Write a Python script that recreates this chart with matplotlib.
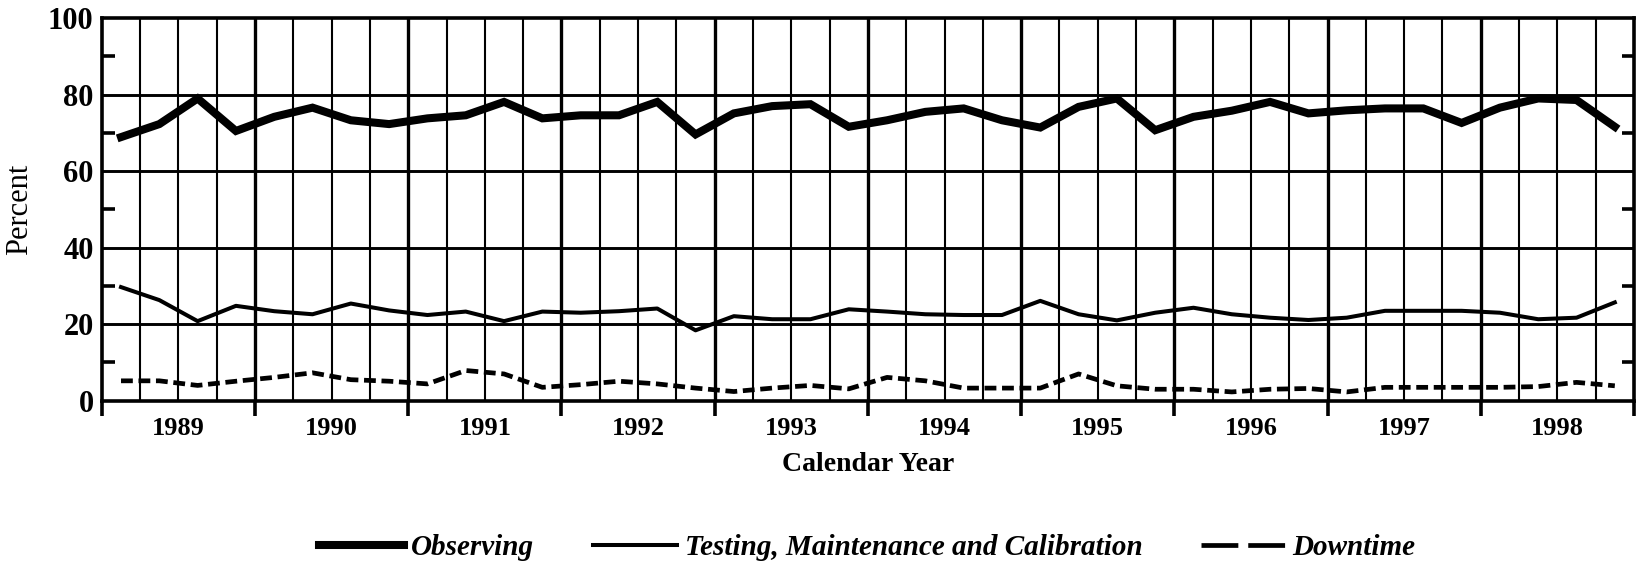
import numpy as np
import matplotlib
matplotlib.use("Agg")
from matplotlib import pyplot as plt
from matplotlib.lines import Line2D

years = [1989, 1990, 1991, 1992, 1993, 1994, 1995, 1996, 1997, 1998]

# quarterly values, 4 per year
observing = [68.9, 72.3, 79.0, 70.5, 74.2, 76.6, 73.3, 72.3, 73.8, 74.6, 78.1, 73.8,
             74.6, 74.6, 78.1, 69.6, 75.1, 77.0, 77.5, 71.6, 73.3, 75.5, 76.4, 73.3,
             71.4, 76.8, 79.0, 70.7, 74.2, 75.8, 78.1, 75.1, 75.9, 76.4, 76.4, 72.6,
             76.6, 79.0, 78.6, 71.6]
testing = [29.7, 26.3, 20.8, 24.8, 23.4, 22.6, 25.4, 23.6, 22.4, 23.3, 20.8, 23.3,
           23.0, 23.4, 24.1, 18.4, 22.1, 21.3, 21.3, 23.9, 23.3, 22.6, 22.4, 22.4,
           26.1, 22.6, 21.0, 23.0, 24.3, 22.6, 21.7, 21.1, 21.7, 23.5, 23.5, 23.5,
           23.0, 21.3, 21.7, 25.7]
downtime = [5.2, 5.2, 4.0, 5.1, 6.1, 7.3, 5.5, 5.1, 4.4, 7.9, 7.0, 3.5,
            4.2, 5.1, 4.4, 3.3, 2.4, 3.3, 4.0, 3.1, 6.1, 5.2, 3.3, 3.3,
            3.3, 7.0, 3.9, 3.0, 3.0, 2.3, 3.0, 3.2, 2.3, 3.5, 3.5, 3.5,
            3.5, 3.7, 4.8, 3.9]

plt.rcParams['font.family'] = ['Liberation Serif', 'DejaVu Serif']

fig = plt.figure(figsize=(16.43, 5.66), dpi=100)
ax = fig.add_axes([0.062, 0.292, 0.9325, 0.676])

nq = len(observing)
x = np.arange(nq) + 0.5

# grid
for q in range(1, nq):
    ax.axvline(q, color='black', lw=2.4 if q % 4 == 0 else 1.5, zorder=1)
for yv in [20, 40, 60, 80]:
    ax.axhline(yv, color='black', lw=2.1, zorder=1)

ax.plot(x, observing, color='black', lw=5.8, solid_joinstyle='miter', zorder=3)
ax.plot(x, testing, color='black', lw=2.9, zorder=3)
ax.plot(x, downtime, color='black', lw=3.4, dashes=(2.5, 1.2), zorder=3)

ax.set_xlim(0, nq)
ax.set_ylim(0, 100)
for s in ax.spines.values():
    s.set_linewidth(2.6)

ax.set_yticks([0, 20, 40, 60, 80, 100])
ax.set_yticks([10, 30, 50, 70, 90], minor=True)
ax.tick_params(axis='y', which='major', length=0, pad=6, labelsize=22)
ax.tick_params(axis='y', which='minor', direction='in', length=9, width=2.6,
               right=True)
for lab in ax.get_yticklabels():
    lab.set_fontweight('bold')

ax.set_xticks(np.arange(0, nq + 1, 4))
ax.set_xticklabels([])
ax.set_xticks(np.arange(2, nq, 4), minor=True)
ax.set_xticklabels([str(y) for y in years], minor=True, fontsize=19,
                   fontweight='bold')
ax.tick_params(axis='x', which='major', direction='out', length=11, width=2.6)
ax.tick_params(axis='x', which='minor', length=0, pad=12)

ax.set_ylabel('Percent', fontsize=22, labelpad=10)
ax.set_xlabel('Calendar Year', fontsize=20, fontweight='bold', labelpad=8)

handles = [Line2D([], [], color='black', lw=5.8),
           Line2D([], [], color='black', lw=2.9),
           Line2D([], [], color='black', lw=3.4, dashes=(7.8, 2.1))]
fig.legend(handles, ['Observing', 'Testing, Maintenance and Calibration', 'Downtime'],
           loc='center', bbox_to_anchor=(0.528, 0.033), ncol=3, frameon=False,
           handlelength=2.9, handletextpad=0.25, columnspacing=2.0,
           prop={'size': 21, 'style': 'italic', 'weight': 'bold'})

fig.savefig('out.png', dpi=100)
